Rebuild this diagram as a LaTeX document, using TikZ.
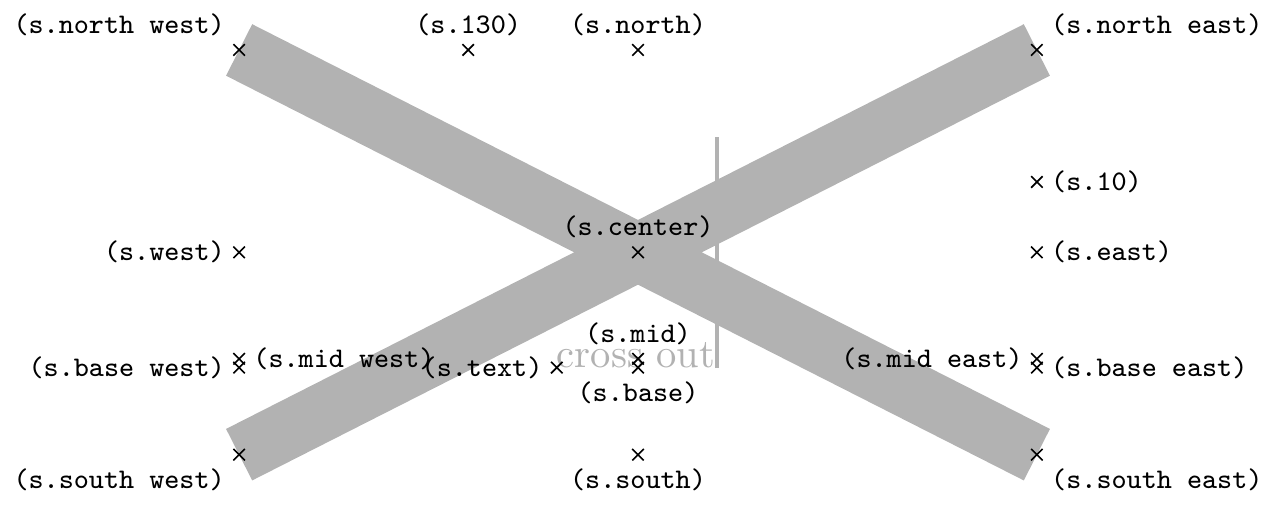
\documentclass[tikz,border=0pt]{standalone}
\usetikzlibrary{shapes.misc}
\tikzset{shapeexample/.style={color=black!30,draw,line width=.5cm,inner xsep=2.5cm,inner ysep=0.5cm}}
\begin{document}
\begin{tikzpicture}
\node[name=s,shape=cross out,shapeexample] {cross out\vrule width 1pt height 2cm};
\foreach \anchor/\placement in
{north west/above left, north/above, north east/above right,
west/left, center/above, east/right,
mid west/right, mid/above, mid east/left,
base west/left, base/below, base east/right,
south west/below left, south/below, south east/below right,
text/left, 10/right, 130/above}
\draw[shift=(s.\anchor)] plot[mark=x] coordinates{(0,0)}
node[\placement] {\scriptsize\texttt{(s.\anchor)}};
\end{tikzpicture}
\end{document}
